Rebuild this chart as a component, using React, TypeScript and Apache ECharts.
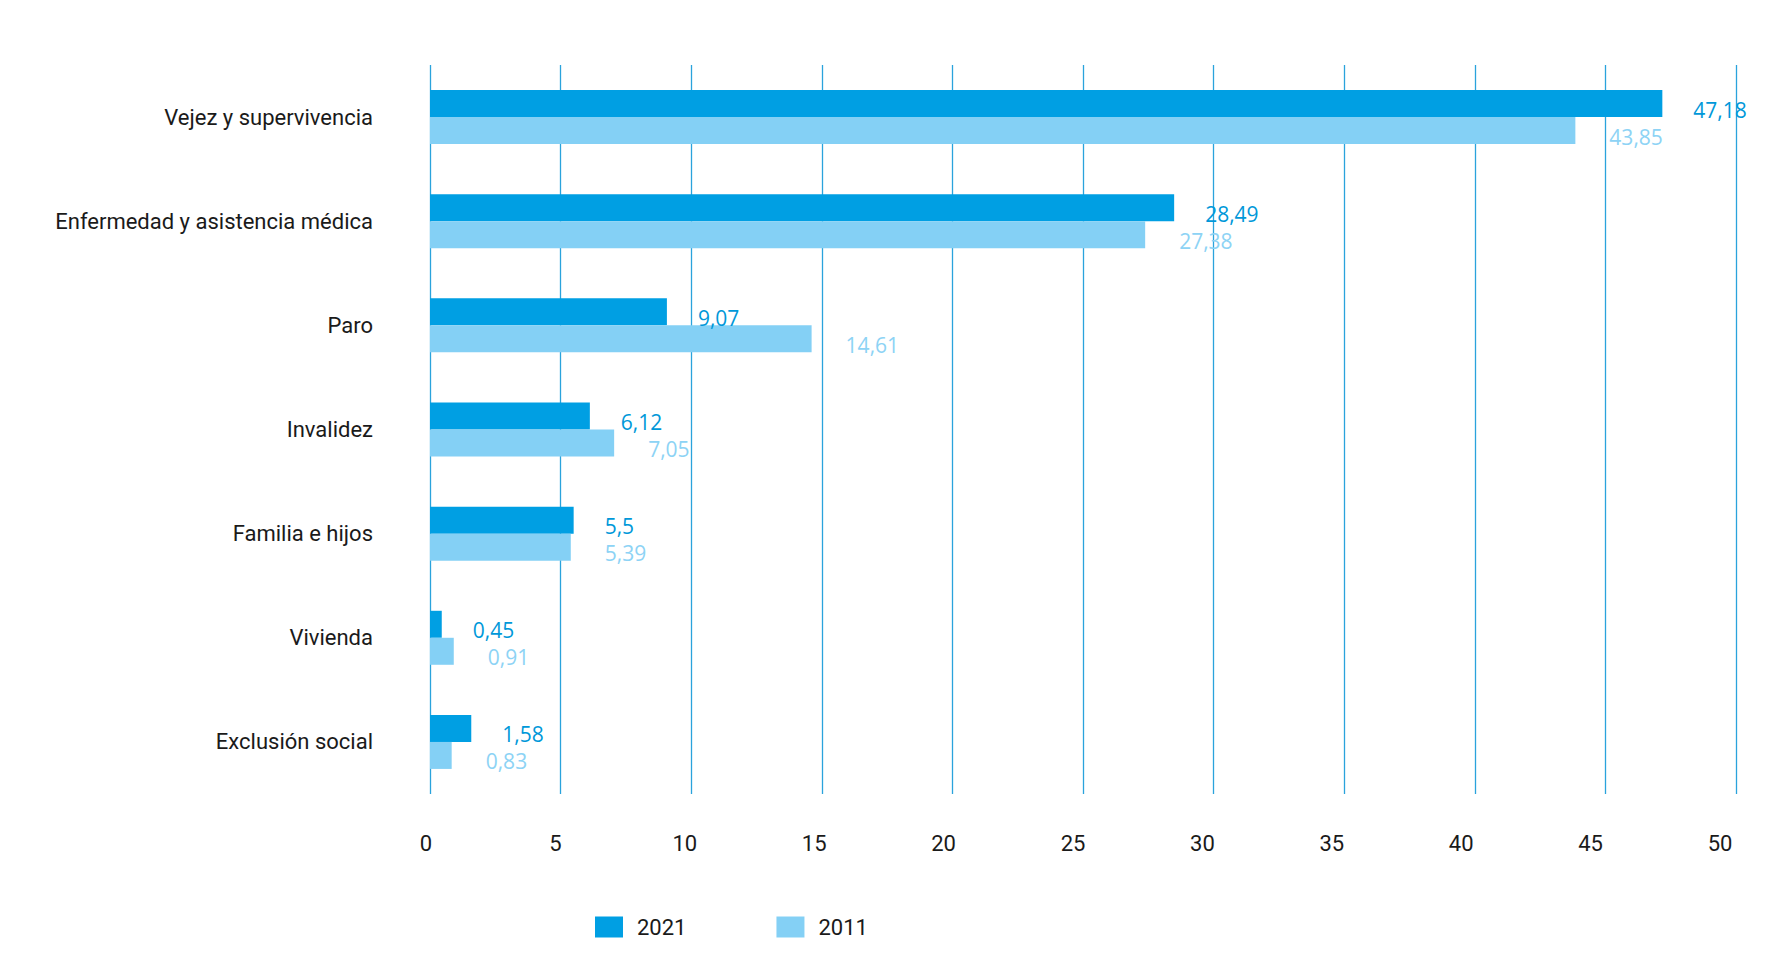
import React, { useEffect, useRef } from "react";
import * as echarts from "echarts";

const categories = [
  "Vejez y supervivencia",
  "Enfermedad y asistencia médica",
  "Paro",
  "Invalidez",
  "Familia e hijos",
  "Vivienda",
  "Exclusión social",
];
const values2021 = [47.18, 28.49, 9.07, 6.12, 5.5, 0.45, 1.58];
const values2011 = [43.85, 27.38, 14.61, 7.05, 5.39, 0.91, 0.83];
const seriesNames = ["2021", "2011"];

const DARK = "#009fe3";
const LIGHT = "#84d0f5";
const GRID = "#2aa3dc";

const fmt = (v: number) => String(v).replace(".", ",");

export default function App() {
  const ref = useRef<HTMLDivElement>(null);
  useEffect(() => {
    document.body.style.margin = "0";
    const chart = echarts.init(ref.current!, null, { renderer: "svg" });
    chart.setOption({
      animation: false,
      backgroundColor: "#ffffff",
      legend: {
        data: seriesNames,
        left: 590,
        top: 911,
        itemWidth: 28,
        itemHeight: 21,
        itemGap: 90,
        icon: "rect",
        textStyle: { fontFamily: "Roboto", fontSize: 22, color: "#1a1a1a", padding: [2, 0, 0, 9] },
      },
      grid: [
        { left: 430, right: 36, top: 65, bottom: 177, containLabel: false },
        { left: 426, right: 52, top: 65, bottom: 177, containLabel: false },
      ],
      xAxis: [
        {
          type: "value",
          gridIndex: 0,
          min: 0,
          max: 50,
          interval: 5,
          axisLine: { show: false },
          axisTick: { show: false },
          axisLabel: { show: false },
          splitLine: { show: true, lineStyle: { color: GRID, width: 1.3 } },
        },
        {
          type: "value",
          gridIndex: 1,
          min: 0,
          max: 50,
          interval: 5,
          axisLine: { show: false },
          axisTick: { show: false },
          splitLine: { show: false },
          axisLabel: {
            show: true,
            margin: 38,
            fontFamily: "Roboto",
            fontSize: 22,
            color: "#1a1a1a",
          },
        },
      ],
      yAxis: [
        {
          type: "category",
          gridIndex: 0,
          data: categories,
          inverse: true,
          axisLine: { show: false },
          axisTick: { show: false },
          splitLine: { show: false },
          axisLabel: {
            margin: 57,
            fontFamily: "Roboto",
            fontSize: 22,
            color: "#1a1a1a",
            padding: [5, 0, 0, 0],
          },
        },
        {
          type: "category",
          gridIndex: 1,
          data: categories,
          inverse: true,
          show: false,
        },
      ],
      series: [
        {
          name: seriesNames[0],
          type: "bar",
          xAxisIndex: 0,
          yAxisIndex: 0,
          data: values2021,
          barWidth: 27,
          barGap: "0%",
          itemStyle: { color: DARK },
          label: {
            show: true,
            position: "right",
            distance: 31,
            offset: [0, 6],
            formatter: (p: any) => fmt(p.value),
            fontFamily: "Open Sans",
            fontSize: 21,
            color: "#0098d9",
          },
        },
        {
          name: seriesNames[1],
          type: "bar",
          xAxisIndex: 0,
          yAxisIndex: 0,
          data: values2011,
          barWidth: 27,
          barGap: "0%",
          itemStyle: { color: LIGHT },
          label: {
            show: true,
            position: "right",
            distance: 34,
            offset: [0, 6],
            formatter: (p: any) => fmt(p.value),
            fontFamily: "Open Sans",
            fontSize: 21,
            color: "#8dd3f5",
          },
        },
      ],
    });
    return () => chart.dispose();
  }, []);
  return (
    <div
      ref={ref}
      style={{ position: "fixed", left: 0, top: 0, width: 1772, height: 971 }}
    />
  );
}
